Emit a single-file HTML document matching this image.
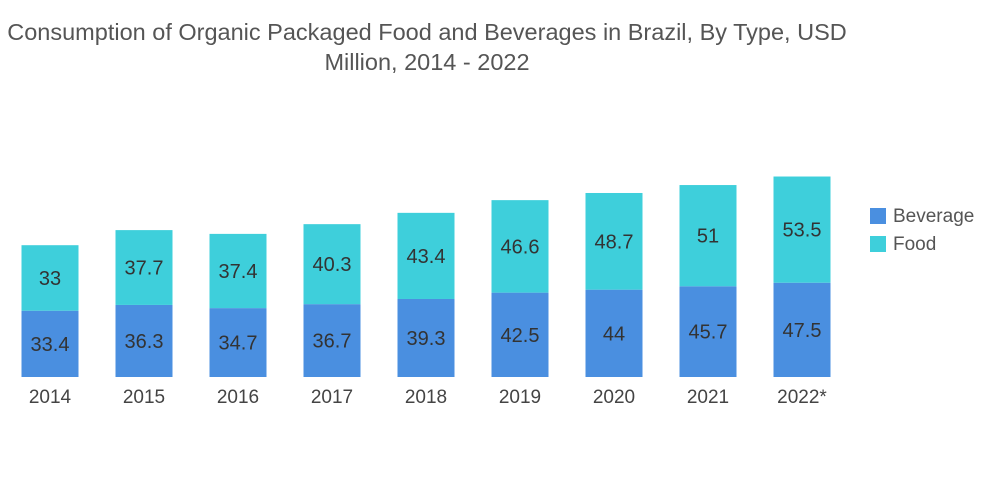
<!DOCTYPE html>
<html><head><meta charset="utf-8">
<style>
body{margin:0;background:#fff;}
svg{display:block;font-family:"Liberation Sans",sans-serif;}
</style></head>
<body>
<svg id="chart" width="1000" height="504">
<text x="427" y="40" text-anchor="middle" font-size="23.5" fill="#555">Consumption of Organic Packaged Food and Beverages in Brazil, By Type, USD</text>
<text x="427" y="70" text-anchor="middle" font-size="23.5" fill="#555">Million, 2014 - 2022</text>
<g id="bars"></g>
<g>
<rect x="870" y="208" width="16" height="16" fill="#4a8fe0"/>
<text x="893" y="222" font-size="19" fill="#555">Beverage</text>
<rect x="870" y="236" width="16" height="16" fill="#3ecfdb"/>
<text x="893" y="250" font-size="19" fill="#555">Food</text>
</g>
</svg>
<script>
const categories = ["2014","2015","2016","2017","2018","2019","2020","2021","2022*"];
const beverage = [33.4,36.3,34.7,36.7,39.3,42.5,44,45.7,47.5];
const food = [33,37.7,37.4,40.3,43.4,46.6,48.7,51,53.5];

const NS="http://www.w3.org/2000/svg";
const g=document.getElementById('bars');
const baseY=377, pxPer=1.985, x0=50, step=94, bw=57;
const xPos=i=>x0+i*step;
const yScale=v=>v*pxPer;
function mk(tag,attrs){const e=document.createElementNS(NS,tag);for(const k in attrs)e.setAttribute(k,attrs[k]);g.appendChild(e);return e;}
categories.forEach((c,i)=>{
  const cx=xPos(i);
  const hb=yScale(beverage[i]), hf=yScale(food[i]);
  const rb=mk('rect',{x:cx-bw/2,y:baseY-hb,width:bw,height:hb,fill:'#4a8fe0'});
  
  
  const rf=mk('rect',{x:cx-bw/2,y:baseY-hb-hf,width:bw,height:hf,fill:'#3ecfdb'});
  
  
  const tb=mk('text',{x:cx,y:baseY-hb/2+7,'text-anchor':'middle','font-size':20,fill:'#333'});
  tb.textContent=beverage[i];
  
  
  const tf=mk('text',{x:cx,y:baseY-hb-hf/2+7,'text-anchor':'middle','font-size':20,fill:'#333'});
  tf.textContent=food[i];
  
  
  const tx=mk('text',{x:cx,y:403,'text-anchor':'middle','font-size':19,fill:'#444'});
  tx.textContent=c;
  
  
});
</script>
</body></html>
